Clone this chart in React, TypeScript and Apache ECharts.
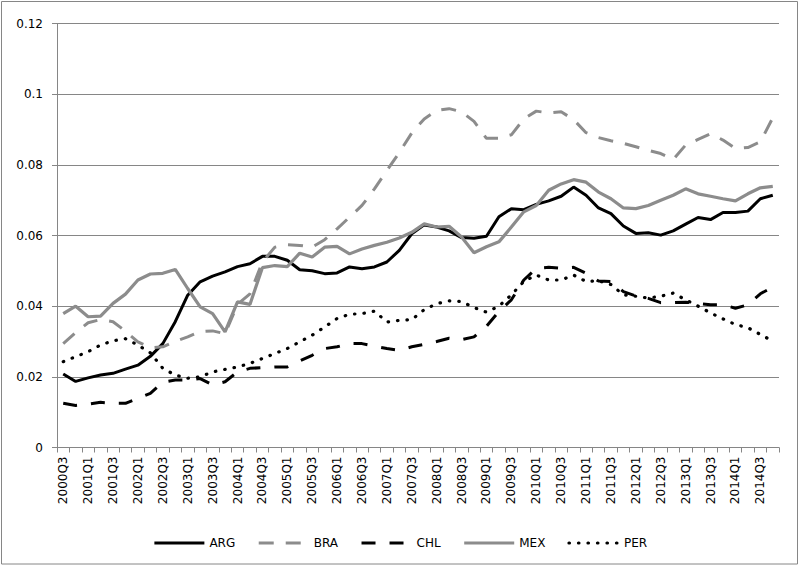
import React, { useEffect, useRef } from "react";
import * as echarts from "echarts";

const years = [2000, 2001, 2002, 2003, 2004, 2005, 2006, 2007, 2008, 2009, 2010, 2011, 2012, 2013, 2014];
const quarters = ["Q1", "Q2", "Q3", "Q4"];
const categories: string[] = [];
years.forEach((y) =>
  quarters.forEach((q, qi) => {
    if (y === 2000 && qi < 2) return;
    categories.push(`${y}${q}`);
  })
);

const yTicks = [0, 0.02, 0.04, 0.06, 0.08, 0.1, 0.12];

const ARG = [
  0.0208, 0.0187, 0.0197, 0.0205, 0.0210, 0.0222, 0.0233, 0.0258, 0.0294, 0.0356,
  0.0431, 0.0469, 0.0485, 0.0497, 0.0512, 0.0520, 0.0541, 0.0541, 0.0530, 0.0503,
  0.0500, 0.0492, 0.0494, 0.0511, 0.0506, 0.0511, 0.0525, 0.0558, 0.0605, 0.0630,
  0.0624, 0.0613, 0.0594, 0.0592, 0.0598, 0.0653, 0.0676, 0.0673, 0.0688, 0.0698,
  0.0711, 0.0737, 0.0714, 0.0678, 0.0662, 0.0627, 0.0606, 0.0608, 0.0601, 0.0613,
  0.0632, 0.0651, 0.0645, 0.0665, 0.0665, 0.0669, 0.0704, 0.0714,
];

const BRA = [
  0.0294, 0.0325, 0.0353, 0.0362, 0.0356, 0.0329, 0.0299, 0.0282, 0.0285, 0.0300,
  0.0313, 0.0328, 0.0330, 0.0322, 0.0405, 0.0435, 0.0525, 0.0567, 0.0574, 0.0572,
  0.0567, 0.0588, 0.0619, 0.0652, 0.0685, 0.0732, 0.0784, 0.0835, 0.0890, 0.0930,
  0.0954, 0.0959, 0.0950, 0.0923, 0.0875, 0.0875, 0.0885, 0.0930, 0.0952, 0.0947,
  0.0950, 0.0928, 0.0891, 0.0877, 0.0868, 0.0861, 0.0851, 0.0841, 0.0832, 0.0815,
  0.0856, 0.0872, 0.0888, 0.0870, 0.0846, 0.0849, 0.0865, 0.0933,
];

const CHL = [
  0.0125, 0.0119, 0.0123, 0.0128, 0.0125, 0.0125, 0.0139, 0.0153, 0.0185, 0.0191,
  0.0191, 0.0195, 0.0177, 0.0186, 0.0214, 0.0224, 0.0226, 0.0228, 0.0228, 0.0245,
  0.0261, 0.0280, 0.0285, 0.0294, 0.0294, 0.0287, 0.0280, 0.0275, 0.0285, 0.0292,
  0.0300, 0.0309, 0.0305, 0.0313, 0.0343, 0.0385, 0.0418, 0.0474, 0.0507, 0.0510,
  0.0507, 0.0510, 0.0493, 0.0471, 0.0470, 0.0441, 0.0429, 0.0422, 0.0410, 0.0410,
  0.0411, 0.0408, 0.0404, 0.0404, 0.0394, 0.0404, 0.0435, 0.0454,
];

const MEX = [
  0.0379, 0.0400, 0.0370, 0.0372, 0.0408, 0.0434, 0.0474, 0.0491, 0.0493, 0.0504,
  0.0450, 0.0398, 0.0379, 0.0327, 0.0412, 0.0405, 0.0509, 0.0515, 0.0512, 0.0550,
  0.0539, 0.0567, 0.0569, 0.0548, 0.0562, 0.0572, 0.0581, 0.0593, 0.0609, 0.0633,
  0.0624, 0.0626, 0.0596, 0.0551, 0.0568, 0.0582, 0.0624, 0.0667, 0.0685, 0.0728,
  0.0746, 0.0758, 0.0751, 0.0723, 0.0704, 0.0678, 0.0676, 0.0685, 0.0700, 0.0714,
  0.0732, 0.0718, 0.0711, 0.0704, 0.0698, 0.0718, 0.0735, 0.0739,
];

const PER = [
  0.0243, 0.0257, 0.0271, 0.0290, 0.0302, 0.0308, 0.0290, 0.0268, 0.0224, 0.0205,
  0.0196, 0.0200, 0.0214, 0.0221, 0.0228, 0.0238, 0.0252, 0.0266, 0.0280, 0.0299,
  0.0318, 0.0341, 0.0365, 0.0377, 0.0379, 0.0386, 0.0355, 0.0360, 0.0362, 0.0390,
  0.0407, 0.0415, 0.0413, 0.0396, 0.0383, 0.0400, 0.0432, 0.0470, 0.0488, 0.0474,
  0.0474, 0.0488, 0.0470, 0.0472, 0.0461, 0.0432, 0.0428, 0.0423, 0.0428, 0.0437,
  0.0418, 0.0400, 0.0381, 0.0364, 0.0348, 0.0339, 0.0320, 0.0301,
];

const BLACK = "#000000";
const GRAY = "#8c8c8c";
const AXIS = "#868686";
const FONT = "DejaVu Sans";

export default function App() {
  const ref = useRef<HTMLDivElement>(null);

  useEffect(() => {
    if (!ref.current) return;
    const chart = echarts.init(ref.current, null, { renderer: "svg" });

    const mk = (name: string, data: number[], color: string, type: any, cap = "butt", width = 3) => ({
      name,
      type: "line",
      data,
      symbol: "none",
      showSymbol: false,
      lineStyle: { color, width, type, cap },
      itemStyle: { color },
      z: 2,
    });

    chart.setOption({
      animation: false,
      backgroundColor: "#ffffff",
      grid: { left: 57, right: 21, top: 23.5, bottom: 119.5, containLabel: false },
      xAxis: {
        type: "category",
        data: categories,
        boundaryGap: true,
        axisLine: { show: true, lineStyle: { color: AXIS, width: 1 } },
        axisTick: { show: true, interval: 0, length: 5, lineStyle: { color: AXIS } },
        axisLabel: {
          interval: 1,
          rotate: 90,
          margin: 9,
          fontFamily: FONT,
          fontSize: 12,
          color: "#000",
        },
        splitLine: { show: false },
      },
      yAxis: {
        type: "value",
        min: 0,
        max: 0.12,
        interval: 0.02,
        axisLine: { show: true, lineStyle: { color: AXIS, width: 1 } },
        axisTick: { show: true, length: 5, lineStyle: { color: AXIS } },
        axisLabel: {
          margin: 14,
          fontFamily: FONT,
          fontSize: 12,
          color: "#000",
          formatter: (v: number) => {
            const t = yTicks.find((x) => Math.abs(x - v) < 1e-9);
            return String(parseFloat((t ?? v).toFixed(2)));
          },
        },
        splitLine: { show: true, lineStyle: { color: AXIS, width: 1 } },
      },
      legend: {
        left: "center",
        top: 532,
        itemWidth: 50,
        itemHeight: 14,
        itemGap: 22,
        icon: undefined,
        itemStyle: { opacity: 0 },
        lineStyle: { width: "inherit" },
        textStyle: { fontFamily: FONT, fontSize: 12, color: "#000" },
        data: ["ARG", "BRA", "CHL", "MEX", "PER"],
      },
      graphic: [
        {
          type: "rect",
          silent: true,
          shape: { x: 1.5, y: 1.5, width: 796, height: 562.5 },
          style: { fill: "none", stroke: AXIS, lineWidth: 1 },
        },
      ],
      series: [
        mk("ARG", ARG, BLACK, "solid"),
        mk("BRA", BRA, GRAY, [15, 12]),
        mk("CHL", CHL, BLACK, [14, 14]),
        mk("MEX", MEX, GRAY, "solid", "butt", 3.2),
        mk("PER", PER, BLACK, [0.5, 9], "round", 3.2),
      ],
    });

    return () => chart.dispose();
  }, []);

  return (
    <div
      ref={ref}
      style={{ position: "absolute", left: 0, top: 0, width: 800, height: 567, background: "#fff" }}
    />
  );
}
